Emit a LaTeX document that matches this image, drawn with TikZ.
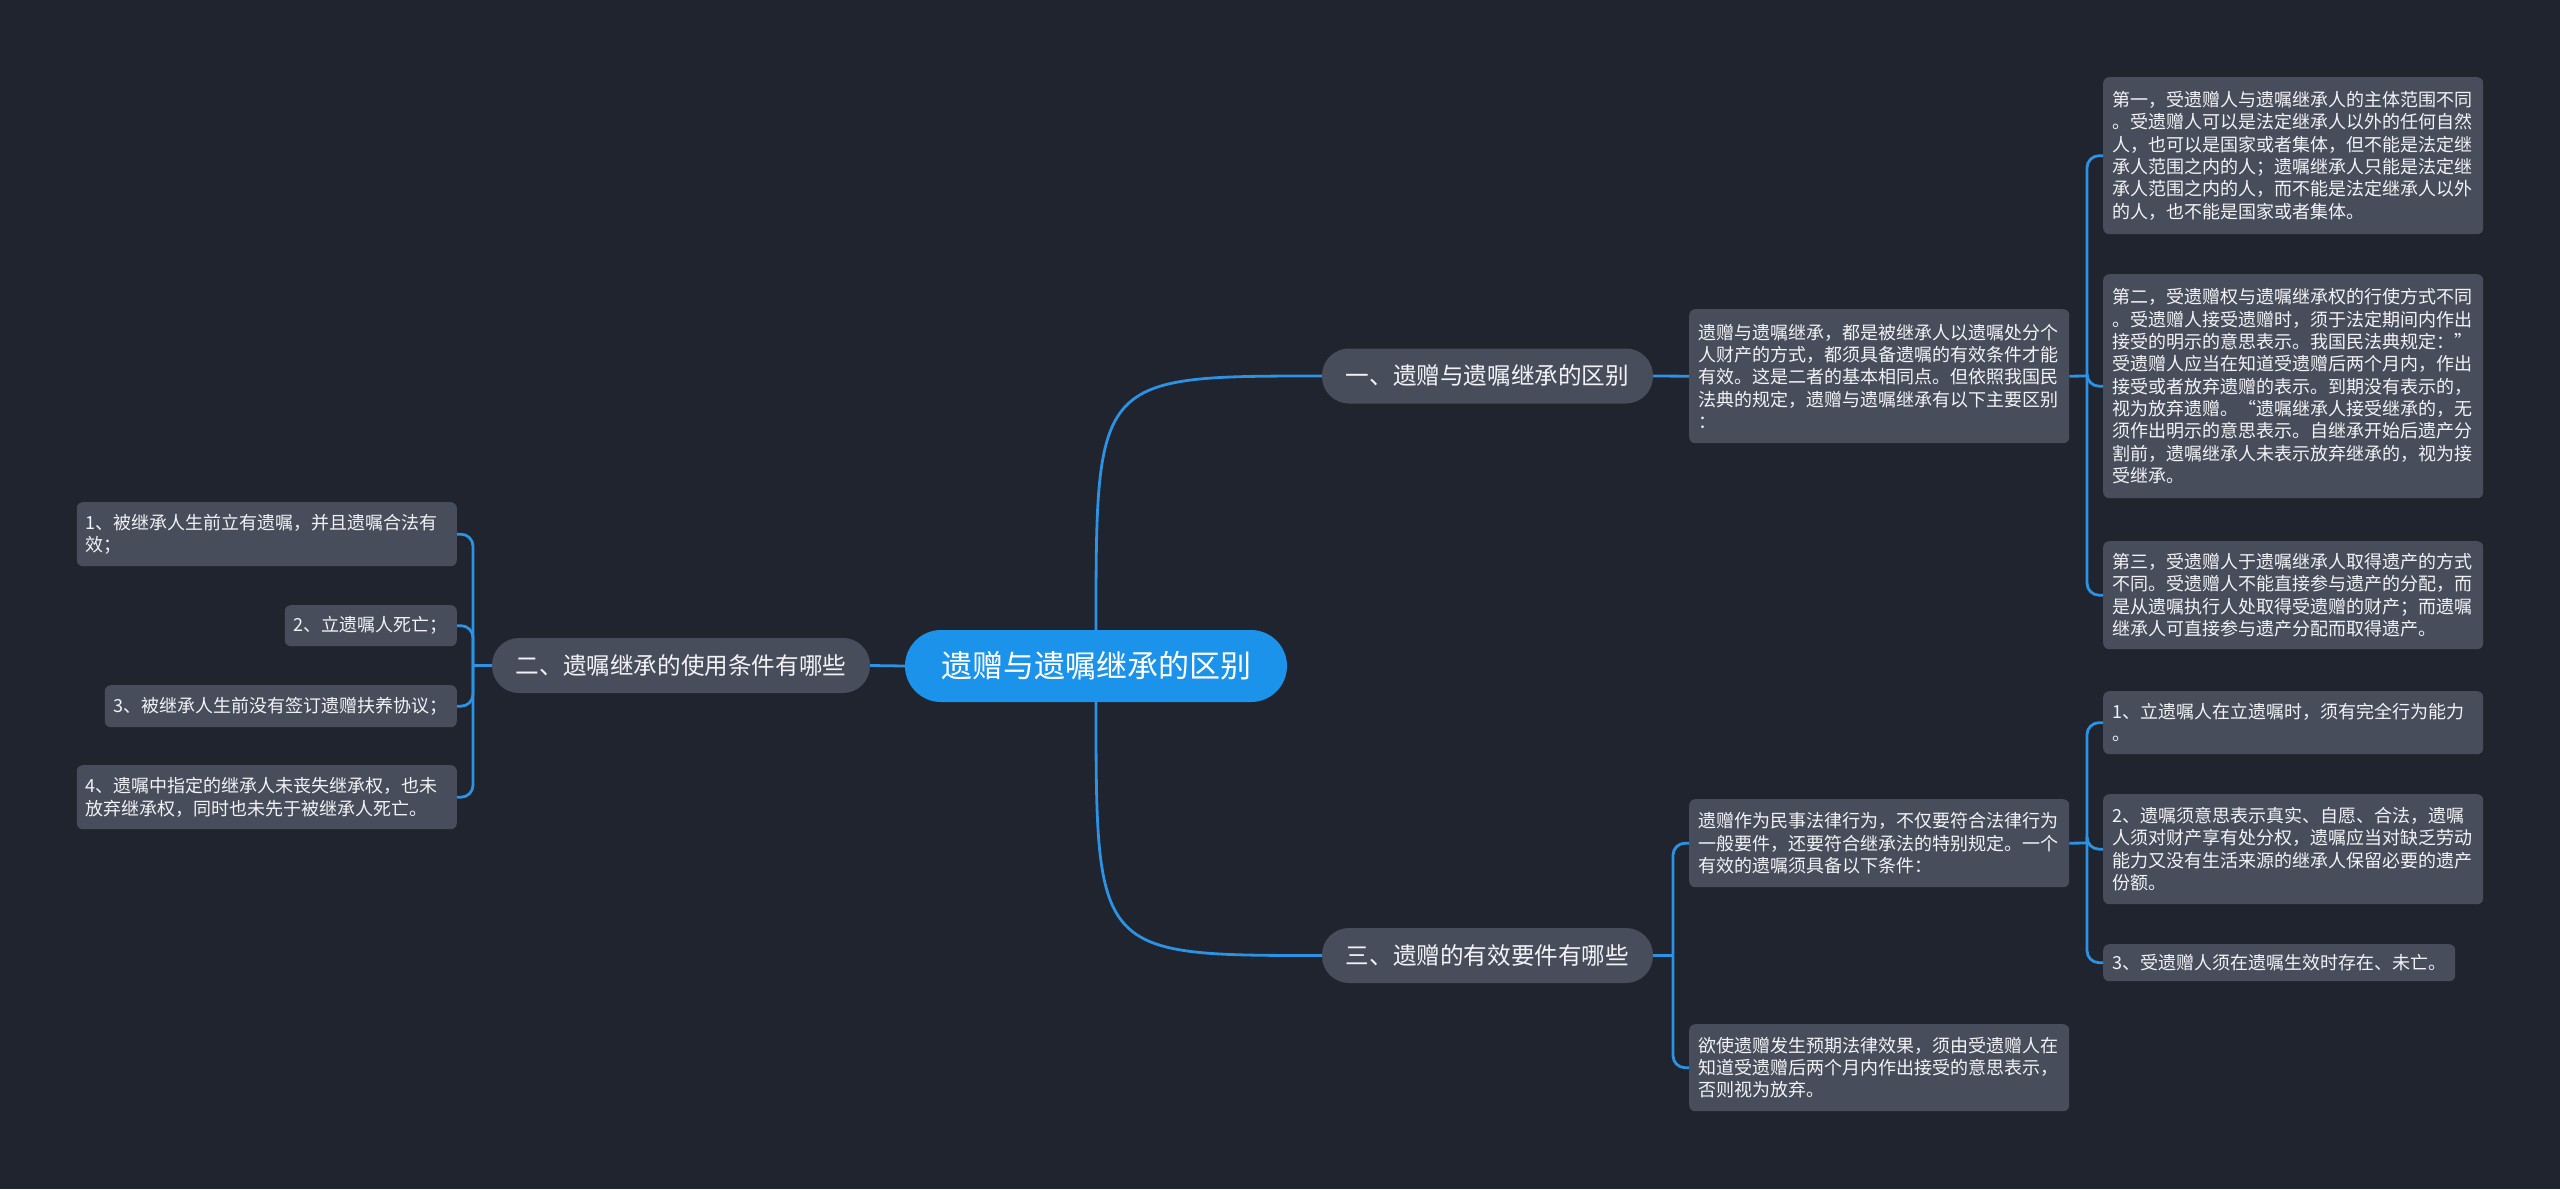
\documentclass[tikz,border=0pt]{standalone}
\usepackage{fontspec}
\setmainfont{Noto Sans CJK SC}
\definecolor{bg}{HTML}{20242F}
\definecolor{boxfill}{HTML}{474D5B}
\definecolor{linec}{HTML}{2B92E4}
\definecolor{centerc}{HTML}{1C93EA}
\definecolor{txt}{HTML}{F2F3F5}
\tikzset{
 leaf/.style={fill=boxfill, rounded corners=6pt, text=txt, font=\fontsize{18}{22.3}\selectfont, inner xsep=9pt, inner ysep=0pt, align=left},
 wideleaf/.style={leaf, text width=362pt},
 branch/.style={fill=boxfill, rounded corners=27pt, text=txt, font=\fontsize{23.6}{28}\selectfont, inner sep=0pt, minimum height=55pt},
 link/.style={draw=linec, line width=2.8pt},
 bracket/.style={link, rounded corners=12pt},
}
\begin{document}
\begin{tikzpicture}[x=1pt,y=-1pt]
\fill[bg] (0,0) rectangle (2560,1189);
\useasboundingbox (0,0) rectangle (2560,1189);

% central
\node[fill=centerc, rounded corners=36pt, text=white, font=\fontsize{31}{36}\selectfont, minimum width=382pt, minimum height=72pt, inner sep=0pt] (c) at (1096,666) {遗赠与遗嘱继承的区别};

% branches
\node[branch, minimum width=331pt] (n1) at (1487.5,376) {一、遗赠与遗嘱继承的区别};
\node[branch, minimum width=378pt] (n2) at (681,665.5) {二、遗嘱继承的使用条件有哪些};
\node[branch, minimum width=331pt] (n3) at (1487.5,955.5) {三、遗赠的有效要件有哪些};

% branch 1 details
\node[wideleaf, anchor=north west, minimum height=134pt] (d1) at (1689,309) {遗赠与遗嘱继承，都是被继承人以遗嘱处分个\\人财产的方式，都须具备遗嘱的有效条件才能\\有效。这是二者的基本相同点。但依照我国民\\法典的规定，遗赠与遗嘱继承有以下主要区别\\：};
\node[wideleaf, anchor=north west, minimum height=157pt] (r11) at (2103,77) {第一，受遗赠人与遗嘱继承人的主体范围不同\\。受遗赠人可以是法定继承人以外的任何自然\\人，也可以是国家或者集体，但不能是法定继\\承人范围之内的人；遗嘱继承人只能是法定继\\承人范围之内的人，而不能是法定继承人以外\\的人，也不能是国家或者集体。};
\node[wideleaf, anchor=north west, minimum height=224pt] (r12) at (2103,274) {第二，受遗赠权与遗嘱继承权的行使方式不同\\。受遗赠人接受遗赠时，须于法定期间内作出\\接受的明示的意思表示。我国民法典规定：”\\受遗赠人应当在知道受遗赠后两个月内，作出\\接受或者放弃遗赠的表示。到期没有表示的，\\视为放弃遗赠。“遗嘱继承人接受继承的，无\\须作出明示的意思表示。自继承开始后遗产分\\割前，遗嘱继承人未表示放弃继承的，视为接\\受继承。};
\node[wideleaf, anchor=north west, minimum height=108pt] (r13) at (2103,541) {第三，受遗赠人于遗嘱继承人取得遗产的方式\\不同。受遗赠人不能直接参与遗产的分配，而\\是从遗嘱执行人处取得受遗赠的财产；而遗嘱\\继承人可直接参与遗产分配而取得遗产。};

% branch 3 details
\node[wideleaf, anchor=north west, minimum height=88pt] (d3a) at (1689,799) {遗赠作为民事法律行为，不仅要符合法律行为\\一般要件，还要符合继承法的特别规定。一个\\有效的遗嘱须具备以下条件：};
\node[wideleaf, anchor=north west, minimum height=87pt] (d3b) at (1689,1024) {欲使遗赠发生预期法律效果，须由受遗赠人在\\知道受遗赠后两个月内作出接受的意思表示，\\否则视为放弃。};
\node[wideleaf, anchor=north west, minimum height=63pt] (r31) at (2103,691) {1、立遗嘱人在立遗嘱时，须有完全行为能力\\。};
\node[wideleaf, anchor=north west, minimum height=110pt] (r32) at (2103,794) {2、遗嘱须意思表示真实、自愿、合法，遗嘱\\人须对财产享有处分权，遗嘱应当对缺乏劳动\\能力又没有生活来源的继承人保留必要的遗产\\份额。};
\node[leaf, anchor=north west, minimum height=37pt] (r33) at (2103,944) {3、受遗赠人须在遗嘱生效时存在、未亡。};

% branch 2 details
\node[wideleaf, anchor=north east, minimum height=64pt] (l1) at (457,502) {1、被继承人生前立有遗嘱，并且遗嘱合法有\\效；};
\node[leaf, anchor=north east, minimum height=41pt] (l2) at (457,605) {2、立遗嘱人死亡；};
\node[leaf, anchor=north east, minimum height=42pt] (l3) at (457,685) {3、被继承人生前没有签订遗赠扶养协议；};
\node[wideleaf, anchor=north east, minimum height=64pt] (l4) at (457,765) {4、遗嘱中指定的继承人未丧失继承权，也未\\放弃继承权，同时也未先于被继承人死亡。};

% junctions
\coordinate (j1) at (2087,376);
\coordinate (j2) at (473,665.5);
\coordinate (j3) at (1673,955.5);
\coordinate (j4) at (2087,843);

% connectors
\draw[link] (c.north) .. controls (c.north |- n1.west) .. (n1.west);
\draw[link] (c.south) .. controls (c.south |- n3.west) .. (n3.west);
\draw[link] (c.west) -- (n2.east);

\draw[link] (n1.east) -- (d1.west);
\draw[link] (d1.east) -- (j1);
\draw[bracket] (j1) |- (r11.west);
\draw[bracket] (j1) |- (r12.west);
\draw[bracket] (j1) |- (r13.west);

\draw[link] (n2.west) -- (j2);
\draw[bracket] (j2) |- (l1.east);
\draw[bracket] (j2) |- (l2.east);
\draw[bracket] (j2) |- (l3.east);
\draw[bracket] (j2) |- (l4.east);

\draw[link] (n3.east) -- (j3);
\draw[bracket] (j3) |- (d3a.west);
\draw[bracket] (j3) |- (d3b.west);
\draw[link] (d3a.east) -- (j4);
\draw[bracket] (j4) |- (r31.west);
\draw[bracket] (j4) |- (r32.west);
\draw[bracket] (j4) |- (r33.west);
\end{tikzpicture}
\end{document}
